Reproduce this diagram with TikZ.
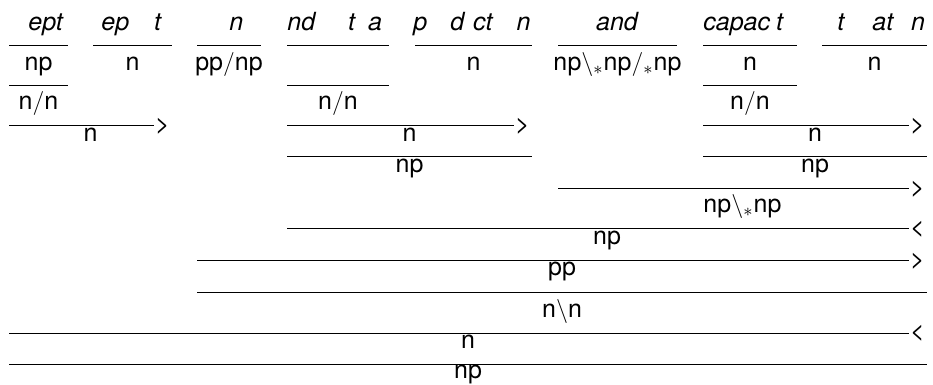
\documentclass[tikz,border=0pt]{standalone}
\usepackage{fontspec}
\setmainfont{TeX Gyre Heros}
\usepackage{tikz}

\newcommand\wgap[1]{\hspace{#1pt}}

\begin{document}
\begin{tikzpicture}[x=0.5pt, y=-0.5pt,
  every node/.style={font=\fontsize{12.5}{15}\selectfont, inner sep=0pt},
  word/.style={anchor=base west, font=\fontsize{12.5}{15}\selectfont\itshape},
  cat/.style={anchor=base},
  bar/.style={line width=0.5pt},
  rule/.style={anchor=west, inner sep=0.3pt}]

  \useasboundingbox (0,0) rectangle (933,385);

  % words
  \node[word] (w1) at (28,31) {ept};
  \node[word] (w2) at (101,31) {ep\wgap{12.5}t};
  \node[word] (w3) at (229,31) {n};
  \node[word] (w4) at (287,31) {nd\wgap{16.5}t\wgap{6.5}a};
  \node[word] (w5) at (413,31) {p\wgap{11.5}d\wgap{4.5}ct\wgap{12}n};
  \node[word, anchor=base] (w6) at (617,31) {and};
  \node[word] (w7) at (703,31) {capac\wgap{3}t};
  \node[word] (w8) at (837,31) {t\wgap{14}at\wgap{9}n};

  % lexical and unary rules
  \foreach \n/\xa/\xb/\y/\ly/\c in {l1/9/68/46/71/np, l2/93/172/46/71/n,
      l3/197/261/46/71/{pp$/$np}, l4/287/389/46/71/{}, l5/415/532/46/71/n,
      l6/558/677/46/71/{np$\backslash_*$np$/_*$np}, l7/703/797/46/71/n,
      l8/822/927/46/71/n, u1/9/68/86/110/{n$/$n}, u4/287/389/86/110/{n$/$n},
      u7/703/797/86/110/{n$/$n}, u45/287/532/157/173/np,
      u78/703/927/157/173/np, u38/197/927/293/317/{n$\backslash$n},
      u18/9/927/364/379/np}
  {
    \coordinate (\n-a) at (\xa,\y);
    \coordinate (\n-b) at (\xb,\y);
    \draw[bar] (\n-a) -- (\n-b);
    \node[cat] (\n) at ({(\xa+\xb)/2},\ly) {\c};
  }

  % binary rules
  \foreach \n/\xa/\xb/\y/\ly/\c/\op in {b12/9/172/126/142/n/>,
      b45/287/532/126/142/n/>, b78/703/927/126/142/n/>,
      b68/558/927/189/213/{np$\backslash_*$np}/>, b48/287/927/229/245/np/<,
      b38/197/927/261/276/pp/>, b18/9/927/333/349/n/<}
  {
    \coordinate (\n-a) at (\xa,\y);
    \coordinate (\n-b) at (\xb-18,\y);
    \draw[bar] (\n-a) -- (\n-b);
    \node[rule] (\n-op) at (\n-b) {\op};
    \node[cat] (\n) at ({(\xa+\xb)/2},\ly) {\c};
  }
\end{tikzpicture}
\end{document}
